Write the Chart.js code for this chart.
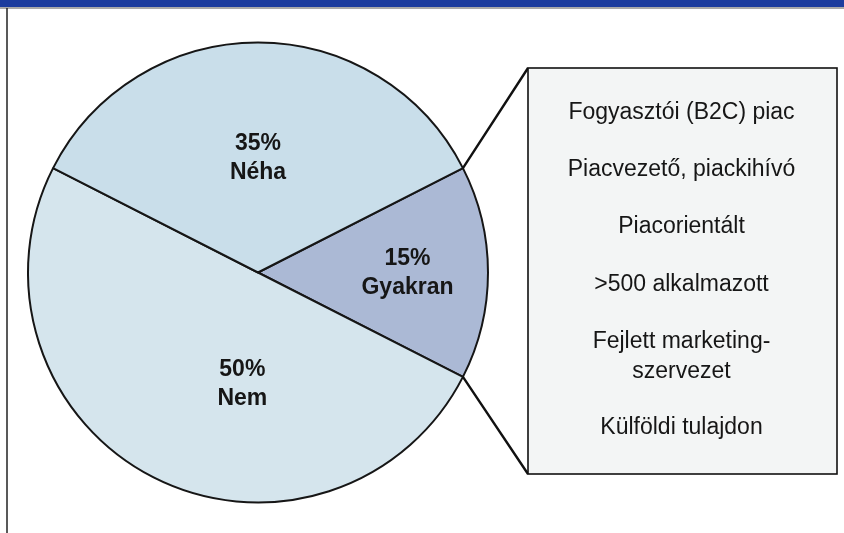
<!DOCTYPE html>
<html>
<head>
<meta charset="utf-8">
<script src="https://cdn.jsdelivr.net/npm/chart.js@4.4.0/dist/chart.umd.min.js"></script>
<style>
  html, body { margin:0; padding:0; background:#fff; }
  #wrap { position:relative; width:844px; height:533px; }
</style>
</head>
<body>
<div id="wrap"><canvas id="pie" width="844" height="533"></canvas></div>
<script>
// data
const labels = ['Gyakran', 'Nem', 'Néha'];
const values = [15, 50, 35];
const colors = ['#abb9d5', '#d5e5ed', '#c9deea'];
const boxLines = ['Fogyasztói (B2C) piac', 'Piacvezető, piackihívó', 'Piacorientált', '>500 alkalmazott', 'Fejlett marketing-', 'szervezet', 'Külföldi tulajdon'];
const boxLineY = [113, 170, 227, 285, 342, 372, 428];

// where the slice labels sit, as fraction of radius + angle nudge (deg)
const labelSpots = [{f:0.65, da:0}, {f:0.49, da:-19}, {f:0.5, da:0}];

const frame = {
  id:'frame',
  beforeDraw(chart){
    const c = chart.ctx;
    c.save();
    c.fillStyle = '#fff'; c.fillRect(0,0,844,533);
    c.fillStyle = '#1c3c9e'; c.fillRect(0,0,844,7);
    c.strokeStyle = '#555'; c.lineWidth = 1;
    c.beginPath(); c.moveTo(0,8); c.lineTo(844,8); c.stroke();
    c.strokeStyle = '#222'; c.lineWidth = 1.5;
    c.beginPath(); c.moveTo(7,8); c.lineTo(7,533); c.stroke();
    c.restore();
  }
};

const extras = {
  id:'extras',
  afterDatasetsDraw(chart){
    const c = chart.ctx;
    const arcs = chart.getDatasetMeta(0).data;
    c.save();
    // slice labels
    c.fillStyle = '#161616';
    c.font = 'bold 23px "Liberation Sans", Arial, sans-serif';
    c.textAlign = 'center'; c.textBaseline = 'middle';
    arcs.forEach((a, i) => {
      const p = a.getProps(['x','y','startAngle','endAngle','outerRadius'], true);
      const ang = (p.startAngle + p.endAngle)/2 + labelSpots[i].da*Math.PI/180;
      const r = p.outerRadius*labelSpots[i].f;
      const x = p.x + Math.cos(ang)*r, y = p.y + Math.sin(ang)*r;
      c.fillText(values[i] + '%', x, y - 14);
      c.fillText(labels[i], x, y + 15);
    });
    // box + connector lines from the Gyakran slice
    const bx = 528, by = 68, bw = 309, bh = 406;
    const g = arcs[0].getProps(['x','y','startAngle','endAngle','outerRadius'], true);
    c.strokeStyle = '#111'; c.lineWidth = 2.4;
    c.beginPath();
    c.moveTo(g.x + Math.cos(g.startAngle)*g.outerRadius, g.y + Math.sin(g.startAngle)*g.outerRadius);
    c.lineTo(bx, by);
    c.moveTo(g.x + Math.cos(g.endAngle)*g.outerRadius, g.y + Math.sin(g.endAngle)*g.outerRadius);
    c.lineTo(bx, by + bh);
    c.stroke();
    c.fillStyle = '#f3f5f5';
    c.fillRect(bx, by, bw, bh);
    c.lineWidth = 1.6;
    c.strokeRect(bx, by, bw, bh);
    c.fillStyle = '#161616';
    c.font = '23px "Liberation Sans", Arial, sans-serif';
    boxLines.forEach((t, i) => c.fillText(t, bx + bw/2 - 1, boxLineY[i]));
    c.restore();
  }
};

new Chart(document.getElementById('pie'), {
  type:'pie',
  data:{ labels, datasets:[{ data: values, backgroundColor: colors, borderColor:'#161616', borderWidth:2, hoverOffset:0 }] },
  options:{
    responsive:false, animation:false,
    rotation: 63,
    layout:{ padding:{ left:27, right:355, top:41, bottom:29 } },
    plugins:{ legend:{display:false}, tooltip:{enabled:false} }
  },
  plugins:[frame, extras]
});
</script>
</body>
</html>
